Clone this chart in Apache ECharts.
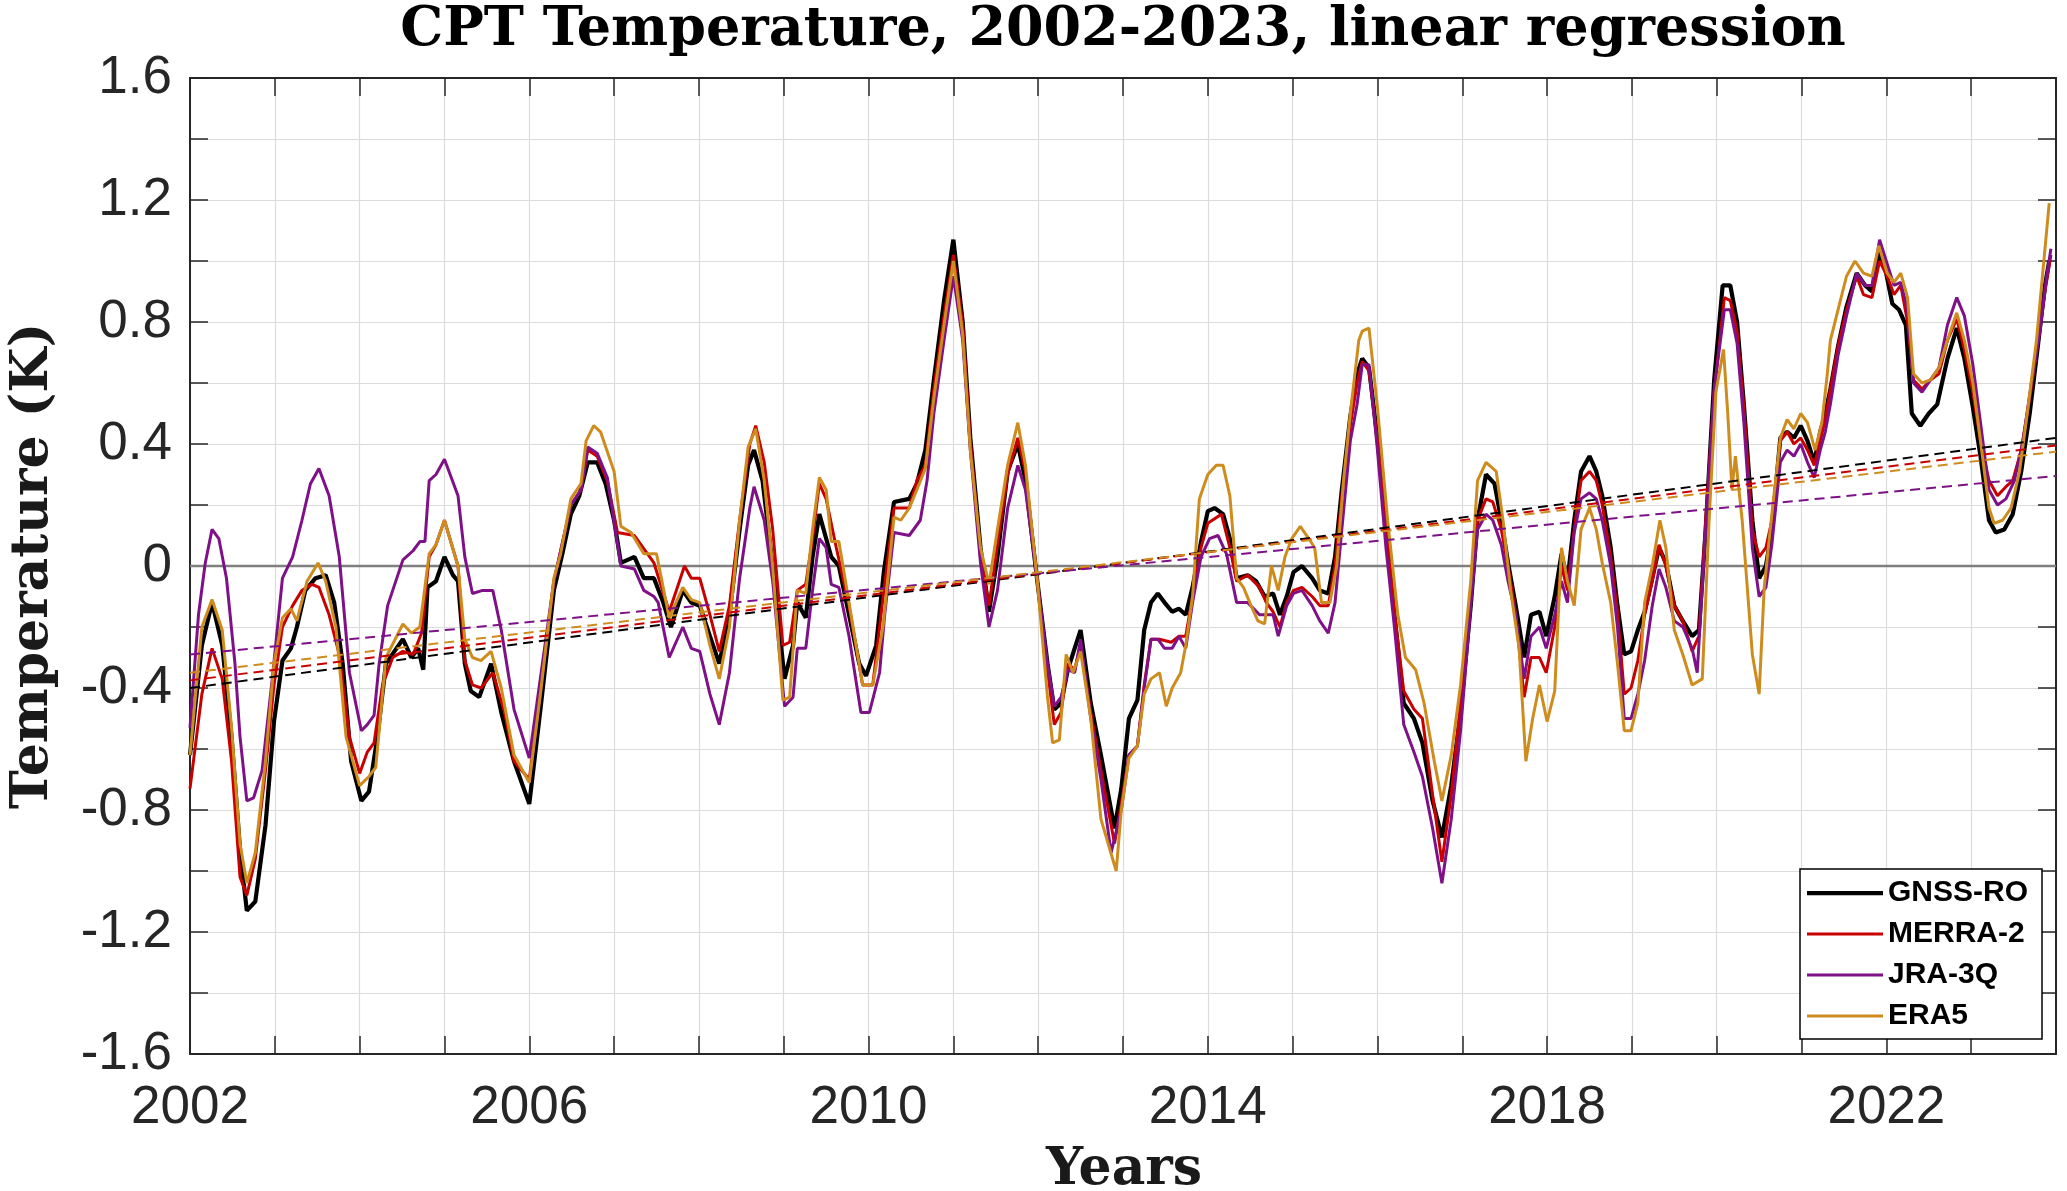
<!DOCTYPE html>
<html><head><meta charset="utf-8">
<script src="https://cdn.jsdelivr.net/npm/echarts/dist/echarts.min.js"></script>
<style>html,body{margin:0;padding:0;background:#fff}#c{width:2067px;height:1191px}</style>
</head><body><div id="c"></div>
<script>
// ---- data (decimal year, K) ----
const seriesNames = ['GNSS-RO','MERRA-2','JRA-3Q','ERA5'];
const xRange = [2002, 2024];
const yRange = [-1.6, 1.6];
const zeroLine = [0, 0];
const trendStart = [-0.40, -0.375, -0.29, -0.35];
const trendEnd   = [0.42, 0.395, 0.295, 0.375];

const gnssData = [[2002.00,-0.62],[2002.14,-0.26],[2002.26,-0.12],[2002.38,-0.26],[2002.49,-0.56],[2002.59,-0.93],[2002.67,-1.13],[2002.77,-1.10],[2002.89,-0.85],[2002.99,-0.51],[2003.09,-0.31],[2003.19,-0.27],[2003.26,-0.20],[2003.36,-0.08],[2003.48,-0.04],[2003.60,-0.03],[2003.70,-0.12],[2003.80,-0.32],[2003.90,-0.64],[2004.02,-0.77],[2004.11,-0.74],[2004.21,-0.56],[2004.31,-0.32],[2004.41,-0.28],[2004.51,-0.24],[2004.61,-0.30],[2004.69,-0.27],[2004.75,-0.34],[2004.80,-0.07],[2004.90,-0.05],[2005.00,0.03],[2005.10,-0.03],[2005.16,-0.05],[2005.24,-0.32],[2005.31,-0.41],[2005.41,-0.43],[2005.55,-0.32],[2005.67,-0.48],[2005.82,-0.64],[2006.00,-0.78],[2006.14,-0.45],[2006.29,-0.08],[2006.39,0.04],[2006.49,0.17],[2006.59,0.23],[2006.69,0.34],[2006.80,0.34],[2006.90,0.27],[2007.00,0.15],[2007.08,0.01],[2007.24,0.03],[2007.35,-0.04],[2007.47,-0.04],[2007.58,-0.12],[2007.67,-0.20],[2007.81,-0.08],[2007.91,-0.12],[2008.01,-0.13],[2008.13,-0.23],[2008.24,-0.32],[2008.36,-0.16],[2008.48,0.12],[2008.58,0.33],[2008.65,0.38],[2008.75,0.28],[2008.87,0.00],[2009.01,-0.37],[2009.11,-0.26],[2009.16,-0.12],[2009.26,-0.17],[2009.34,0.03],[2009.42,0.17],[2009.50,0.09],[2009.56,0.03],[2009.65,0.00],[2009.77,-0.16],[2009.89,-0.32],[2009.97,-0.36],[2010.09,-0.26],[2010.18,-0.02],[2010.30,0.21],[2010.48,0.22],[2010.57,0.27],[2010.67,0.38],[2010.77,0.61],[2010.89,0.87],[2011.00,1.07],[2011.11,0.80],[2011.20,0.42],[2011.32,0.06],[2011.42,-0.15],[2011.52,0.03],[2011.64,0.31],[2011.76,0.40],[2011.85,0.28],[2011.99,-0.05],[2012.11,-0.32],[2012.19,-0.47],[2012.27,-0.45],[2012.35,-0.34],[2012.43,-0.27],[2012.50,-0.21],[2012.62,-0.45],[2012.74,-0.62],[2012.90,-0.86],[2012.98,-0.73],[2013.07,-0.50],[2013.17,-0.44],[2013.25,-0.21],[2013.33,-0.12],[2013.41,-0.09],[2013.49,-0.12],[2013.58,-0.15],[2013.66,-0.14],[2013.74,-0.16],[2013.82,-0.07],[2013.92,0.08],[2014.00,0.18],[2014.08,0.19],[2014.18,0.17],[2014.26,0.09],[2014.34,-0.04],[2014.47,-0.03],[2014.57,-0.05],[2014.67,-0.10],[2014.77,-0.09],[2014.85,-0.16],[2014.93,-0.10],[2015.01,-0.02],[2015.11,0.00],[2015.23,-0.04],[2015.32,-0.08],[2015.42,-0.09],[2015.50,0.03],[2015.58,0.25],[2015.68,0.49],[2015.76,0.63],[2015.82,0.68],[2015.90,0.65],[2016.00,0.42],[2016.10,0.12],[2016.20,-0.16],[2016.31,-0.45],[2016.43,-0.50],[2016.53,-0.58],[2016.65,-0.77],[2016.76,-0.89],[2016.87,-0.72],[2016.98,-0.48],[2017.10,-0.13],[2017.18,0.15],[2017.28,0.30],[2017.38,0.27],[2017.46,0.15],[2017.54,0.01],[2017.63,-0.13],[2017.73,-0.30],[2017.81,-0.16],[2017.91,-0.15],[2017.99,-0.23],[2018.09,-0.10],[2018.17,0.04],[2018.24,-0.05],[2018.32,0.15],[2018.40,0.31],[2018.50,0.36],[2018.58,0.31],[2018.65,0.23],[2018.75,0.06],[2018.83,-0.13],[2018.91,-0.29],[2018.99,-0.28],[2019.07,-0.21],[2019.15,-0.15],[2019.24,-0.04],[2019.32,0.06],[2019.40,0.01],[2019.50,-0.13],[2019.60,-0.18],[2019.71,-0.23],[2019.79,-0.21],[2019.87,0.12],[2019.97,0.61],[2020.07,0.92],[2020.16,0.92],[2020.24,0.80],[2020.32,0.53],[2020.42,0.15],[2020.50,-0.04],[2020.58,0.00],[2020.65,0.12],[2020.75,0.42],[2020.83,0.44],[2020.91,0.42],[2020.99,0.46],[2021.07,0.41],[2021.15,0.34],[2021.22,0.44],[2021.28,0.50],[2021.34,0.58],[2021.43,0.72],[2021.53,0.85],[2021.65,0.96],[2021.75,0.92],[2021.83,0.90],[2021.92,1.03],[2021.99,0.97],[2022.07,0.86],[2022.15,0.84],[2022.23,0.79],[2022.30,0.50],[2022.40,0.46],[2022.50,0.50],[2022.60,0.53],[2022.72,0.68],[2022.83,0.78],[2022.92,0.68],[2023.02,0.52],[2023.11,0.36],[2023.21,0.15],[2023.29,0.11],[2023.39,0.12],[2023.49,0.17],[2023.59,0.31],[2023.69,0.50],[2023.79,0.73],[2023.87,0.92],[2023.92,1.00]];

const merraData = [[2002.00,-0.73],[2002.14,-0.42],[2002.26,-0.27],[2002.38,-0.37],[2002.49,-0.64],[2002.59,-1.02],[2002.67,-1.08],[2002.77,-0.96],[2002.89,-0.67],[2002.99,-0.39],[2003.09,-0.20],[2003.21,-0.13],[2003.32,-0.08],[2003.44,-0.06],[2003.52,-0.07],[2003.64,-0.16],[2003.76,-0.29],[2003.88,-0.56],[2004.00,-0.68],[2004.09,-0.61],[2004.17,-0.58],[2004.27,-0.39],[2004.39,-0.30],[2004.51,-0.28],[2004.63,-0.29],[2004.73,-0.22],[2004.82,0.03],[2004.90,0.07],[2005.00,0.15],[2005.16,0.00],[2005.24,-0.31],[2005.33,-0.39],[2005.43,-0.40],[2005.57,-0.35],[2005.71,-0.48],[2005.82,-0.64],[2006.00,-0.70],[2006.14,-0.39],[2006.29,-0.05],[2006.49,0.20],[2006.61,0.25],[2006.69,0.38],[2006.80,0.36],[2006.92,0.28],[2007.04,0.11],[2007.24,0.10],[2007.47,0.01],[2007.65,-0.15],[2007.83,0.00],[2007.91,-0.04],[2008.01,-0.04],[2008.13,-0.16],[2008.24,-0.28],[2008.36,-0.13],[2008.48,0.15],[2008.60,0.40],[2008.67,0.46],[2008.77,0.34],[2008.87,0.12],[2008.99,-0.26],[2009.07,-0.25],[2009.16,-0.08],[2009.26,-0.06],[2009.34,0.09],[2009.42,0.27],[2009.50,0.22],[2009.62,0.06],[2009.77,-0.13],[2009.93,-0.39],[2010.05,-0.39],[2010.16,-0.13],[2010.30,0.19],[2010.48,0.19],[2010.57,0.28],[2010.67,0.33],[2010.77,0.58],[2010.89,0.82],[2011.00,1.02],[2011.11,0.79],[2011.20,0.41],[2011.32,0.03],[2011.42,-0.13],[2011.52,0.07],[2011.64,0.30],[2011.76,0.42],[2011.85,0.31],[2011.99,-0.05],[2012.11,-0.34],[2012.19,-0.52],[2012.27,-0.48],[2012.35,-0.32],[2012.43,-0.34],[2012.50,-0.26],[2012.62,-0.48],[2012.74,-0.67],[2012.90,-0.91],[2012.98,-0.78],[2013.07,-0.62],[2013.17,-0.59],[2013.25,-0.39],[2013.33,-0.24],[2013.43,-0.24],[2013.57,-0.25],[2013.66,-0.23],[2013.74,-0.23],[2013.82,-0.10],[2013.92,0.06],[2014.00,0.14],[2014.16,0.17],[2014.26,0.06],[2014.34,-0.05],[2014.47,-0.03],[2014.61,-0.07],[2014.69,-0.12],[2014.77,-0.15],[2014.85,-0.20],[2014.93,-0.12],[2015.01,-0.08],[2015.11,-0.07],[2015.23,-0.10],[2015.32,-0.13],[2015.42,-0.13],[2015.50,0.00],[2015.58,0.23],[2015.68,0.46],[2015.76,0.60],[2015.82,0.67],[2015.90,0.64],[2016.00,0.41],[2016.10,0.12],[2016.20,-0.15],[2016.31,-0.41],[2016.43,-0.47],[2016.53,-0.50],[2016.65,-0.75],[2016.76,-0.97],[2016.87,-0.75],[2016.98,-0.45],[2017.10,-0.10],[2017.18,0.15],[2017.28,0.22],[2017.36,0.21],[2017.46,0.12],[2017.54,0.00],[2017.63,-0.16],[2017.73,-0.43],[2017.81,-0.30],[2017.91,-0.30],[2017.99,-0.35],[2018.09,-0.20],[2018.17,0.00],[2018.24,-0.08],[2018.32,0.12],[2018.40,0.28],[2018.50,0.31],[2018.58,0.28],[2018.65,0.20],[2018.75,0.03],[2018.83,-0.15],[2018.91,-0.42],[2018.99,-0.40],[2019.07,-0.31],[2019.15,-0.16],[2019.24,-0.05],[2019.32,0.07],[2019.40,0.00],[2019.50,-0.13],[2019.60,-0.18],[2019.71,-0.28],[2019.79,-0.23],[2019.87,0.15],[2019.97,0.57],[2020.09,0.88],[2020.16,0.87],[2020.24,0.77],[2020.32,0.52],[2020.42,0.12],[2020.50,0.03],[2020.58,0.06],[2020.65,0.15],[2020.75,0.41],[2020.83,0.44],[2020.91,0.40],[2020.99,0.42],[2021.07,0.38],[2021.15,0.33],[2021.22,0.41],[2021.28,0.48],[2021.34,0.58],[2021.43,0.72],[2021.53,0.84],[2021.65,0.95],[2021.73,0.89],[2021.83,0.88],[2021.92,1.00],[2022.01,0.95],[2022.09,0.89],[2022.17,0.92],[2022.25,0.80],[2022.32,0.61],[2022.42,0.58],[2022.52,0.61],[2022.62,0.63],[2022.72,0.74],[2022.83,0.81],[2022.92,0.71],[2023.02,0.57],[2023.11,0.41],[2023.21,0.28],[2023.31,0.23],[2023.41,0.26],[2023.49,0.28],[2023.59,0.38],[2023.69,0.55],[2023.79,0.74],[2023.87,0.90],[2023.94,1.02]];

const jraData = [[2002.00,-0.53],[2002.10,-0.16],[2002.18,0.01],[2002.26,0.12],[2002.34,0.09],[2002.43,-0.04],[2002.53,-0.32],[2002.59,-0.56],[2002.67,-0.77],[2002.75,-0.76],[2002.85,-0.67],[2002.97,-0.37],[2003.09,-0.04],[2003.21,0.03],[2003.32,0.15],[2003.42,0.27],[2003.52,0.32],[2003.64,0.23],[2003.76,0.03],[2003.88,-0.35],[2004.02,-0.54],[2004.09,-0.52],[2004.17,-0.49],[2004.23,-0.32],[2004.33,-0.13],[2004.51,0.02],[2004.63,0.05],[2004.71,0.08],[2004.77,0.08],[2004.82,0.28],[2004.90,0.30],[2005.00,0.35],[2005.16,0.23],[2005.24,0.03],[2005.33,-0.09],[2005.45,-0.08],[2005.57,-0.08],[2005.67,-0.21],[2005.82,-0.47],[2006.00,-0.63],[2006.14,-0.35],[2006.29,-0.05],[2006.49,0.20],[2006.61,0.25],[2006.69,0.39],[2006.80,0.37],[2006.92,0.29],[2007.08,0.00],[2007.24,-0.01],[2007.35,-0.08],[2007.47,-0.10],[2007.52,-0.12],[2007.65,-0.30],[2007.81,-0.20],[2007.91,-0.27],[2008.01,-0.28],[2008.13,-0.42],[2008.24,-0.52],[2008.36,-0.35],[2008.48,-0.04],[2008.60,0.19],[2008.65,0.26],[2008.77,0.15],[2008.87,-0.05],[2009.01,-0.46],[2009.11,-0.43],[2009.16,-0.27],[2009.26,-0.27],[2009.34,-0.08],[2009.42,0.09],[2009.50,0.06],[2009.56,-0.06],[2009.65,-0.07],[2009.77,-0.23],[2009.91,-0.48],[2010.01,-0.48],[2010.13,-0.35],[2010.19,-0.16],[2010.30,0.11],[2010.48,0.10],[2010.61,0.15],[2010.69,0.28],[2010.77,0.50],[2010.89,0.74],[2011.00,0.95],[2011.11,0.74],[2011.20,0.38],[2011.32,0.01],[2011.42,-0.20],[2011.52,-0.08],[2011.64,0.19],[2011.76,0.33],[2011.85,0.25],[2011.99,-0.05],[2012.11,-0.32],[2012.19,-0.46],[2012.27,-0.43],[2012.35,-0.34],[2012.43,-0.35],[2012.50,-0.24],[2012.62,-0.50],[2012.74,-0.70],[2012.86,-0.94],[2012.98,-0.80],[2013.07,-0.62],[2013.17,-0.59],[2013.25,-0.40],[2013.33,-0.24],[2013.41,-0.24],[2013.49,-0.27],[2013.58,-0.27],[2013.66,-0.23],[2013.74,-0.27],[2013.82,-0.12],[2013.92,0.03],[2014.02,0.09],[2014.12,0.10],[2014.22,0.04],[2014.34,-0.12],[2014.47,-0.12],[2014.61,-0.16],[2014.69,-0.16],[2014.77,-0.16],[2014.83,-0.23],[2014.93,-0.13],[2015.01,-0.09],[2015.11,-0.08],[2015.23,-0.13],[2015.32,-0.18],[2015.42,-0.22],[2015.50,-0.12],[2015.58,0.12],[2015.68,0.41],[2015.76,0.53],[2015.82,0.66],[2015.90,0.66],[2016.00,0.38],[2016.10,0.06],[2016.20,-0.20],[2016.31,-0.52],[2016.43,-0.61],[2016.53,-0.69],[2016.65,-0.86],[2016.76,-1.04],[2016.87,-0.83],[2016.98,-0.54],[2017.10,-0.13],[2017.18,0.12],[2017.28,0.17],[2017.36,0.15],[2017.46,0.07],[2017.54,-0.05],[2017.63,-0.16],[2017.73,-0.37],[2017.81,-0.23],[2017.91,-0.20],[2017.99,-0.27],[2018.09,-0.16],[2018.17,-0.05],[2018.24,-0.12],[2018.32,0.11],[2018.40,0.22],[2018.50,0.24],[2018.58,0.22],[2018.65,0.15],[2018.75,0.00],[2018.83,-0.20],[2018.91,-0.50],[2018.99,-0.50],[2019.07,-0.42],[2019.15,-0.31],[2019.24,-0.13],[2019.32,-0.01],[2019.40,-0.07],[2019.50,-0.18],[2019.60,-0.20],[2019.71,-0.27],[2019.77,-0.35],[2019.87,0.12],[2019.97,0.58],[2020.09,0.84],[2020.16,0.84],[2020.24,0.73],[2020.32,0.47],[2020.42,0.06],[2020.50,-0.10],[2020.58,-0.07],[2020.65,0.07],[2020.75,0.34],[2020.83,0.38],[2020.91,0.36],[2020.99,0.40],[2021.07,0.34],[2021.15,0.29],[2021.22,0.38],[2021.28,0.44],[2021.34,0.53],[2021.43,0.69],[2021.53,0.82],[2021.65,0.96],[2021.75,0.92],[2021.83,0.92],[2021.92,1.07],[2022.01,0.99],[2022.09,0.92],[2022.17,0.93],[2022.25,0.84],[2022.32,0.60],[2022.42,0.57],[2022.52,0.61],[2022.62,0.65],[2022.72,0.79],[2022.83,0.88],[2022.92,0.82],[2023.02,0.66],[2023.11,0.47],[2023.21,0.25],[2023.31,0.20],[2023.41,0.22],[2023.51,0.28],[2023.61,0.41],[2023.71,0.60],[2023.81,0.77],[2023.89,0.95],[2023.94,1.04]];

const era5Data = [[2002.00,-0.62],[2002.14,-0.20],[2002.26,-0.11],[2002.38,-0.21],[2002.49,-0.53],[2002.59,-0.91],[2002.67,-1.04],[2002.77,-0.94],[2002.89,-0.64],[2002.99,-0.32],[2003.09,-0.17],[2003.19,-0.14],[2003.26,-0.18],[2003.38,-0.05],[2003.51,0.01],[2003.60,-0.05],[2003.72,-0.20],[2003.84,-0.56],[2004.00,-0.72],[2004.11,-0.69],[2004.19,-0.66],[2004.31,-0.30],[2004.51,-0.19],[2004.61,-0.22],[2004.71,-0.20],[2004.82,0.04],[2004.90,0.07],[2005.00,0.15],[2005.16,0.00],[2005.24,-0.24],[2005.33,-0.30],[2005.43,-0.31],[2005.55,-0.28],[2005.67,-0.40],[2005.82,-0.62],[2006.00,-0.71],[2006.14,-0.40],[2006.29,-0.04],[2006.37,0.04],[2006.49,0.22],[2006.61,0.27],[2006.67,0.41],[2006.76,0.46],[2006.84,0.44],[2007.00,0.31],[2007.08,0.13],[2007.20,0.11],[2007.35,0.04],[2007.50,0.04],[2007.65,-0.17],[2007.81,-0.07],[2007.91,-0.11],[2008.01,-0.12],[2008.13,-0.26],[2008.24,-0.37],[2008.36,-0.20],[2008.48,0.15],[2008.58,0.39],[2008.67,0.45],[2008.77,0.28],[2008.87,0.00],[2008.99,-0.44],[2009.07,-0.43],[2009.16,-0.08],[2009.26,-0.09],[2009.34,0.12],[2009.42,0.29],[2009.50,0.25],[2009.56,0.08],[2009.65,0.08],[2009.77,-0.12],[2009.93,-0.39],[2010.05,-0.39],[2010.17,-0.20],[2010.30,0.16],[2010.38,0.15],[2010.48,0.19],[2010.57,0.25],[2010.67,0.32],[2010.77,0.55],[2010.89,0.79],[2011.00,1.00],[2011.11,0.76],[2011.20,0.38],[2011.32,0.06],[2011.42,-0.06],[2011.52,0.12],[2011.64,0.33],[2011.76,0.47],[2011.85,0.33],[2011.99,-0.05],[2012.11,-0.43],[2012.17,-0.58],[2012.25,-0.57],[2012.33,-0.29],[2012.41,-0.35],[2012.50,-0.28],[2012.62,-0.50],[2012.74,-0.83],[2012.92,-1.00],[2012.98,-0.80],[2013.07,-0.63],[2013.17,-0.59],[2013.25,-0.42],[2013.33,-0.37],[2013.43,-0.35],[2013.51,-0.46],[2013.58,-0.40],[2013.68,-0.35],[2013.74,-0.26],[2013.82,-0.10],[2013.90,0.22],[2014.00,0.30],[2014.10,0.33],[2014.18,0.33],[2014.26,0.23],[2014.34,-0.04],[2014.42,-0.07],[2014.51,-0.13],[2014.59,-0.18],[2014.67,-0.19],[2014.75,0.00],[2014.83,-0.08],[2014.91,0.03],[2014.99,0.09],[2015.09,0.13],[2015.19,0.09],[2015.26,0.06],[2015.34,-0.12],[2015.44,-0.12],[2015.52,0.00],[2015.60,0.28],[2015.68,0.50],[2015.78,0.74],[2015.82,0.77],[2015.90,0.78],[2016.00,0.52],[2016.12,0.15],[2016.24,-0.16],[2016.33,-0.30],[2016.45,-0.34],[2016.55,-0.45],[2016.67,-0.64],[2016.76,-0.77],[2016.87,-0.62],[2016.98,-0.39],[2017.10,-0.05],[2017.18,0.28],[2017.28,0.34],[2017.40,0.31],[2017.48,0.15],[2017.57,-0.08],[2017.67,-0.27],[2017.75,-0.64],[2017.83,-0.50],[2017.91,-0.39],[2018.00,-0.51],[2018.09,-0.41],[2018.17,0.06],[2018.24,-0.05],[2018.32,-0.13],[2018.40,0.12],[2018.50,0.19],[2018.58,0.12],[2018.65,0.01],[2018.75,-0.12],[2018.83,-0.32],[2018.91,-0.54],[2018.99,-0.54],[2019.07,-0.45],[2019.15,-0.12],[2019.24,0.00],[2019.33,0.15],[2019.40,0.06],[2019.50,-0.21],[2019.60,-0.29],[2019.71,-0.39],[2019.83,-0.37],[2019.91,0.15],[2019.99,0.57],[2020.08,0.71],[2020.13,0.50],[2020.18,0.25],[2020.22,0.36],[2020.30,0.15],[2020.42,-0.29],[2020.50,-0.42],[2020.56,-0.07],[2020.65,0.17],[2020.75,0.42],[2020.83,0.48],[2020.91,0.45],[2020.99,0.50],[2021.07,0.47],[2021.16,0.38],[2021.24,0.47],[2021.30,0.62],[2021.34,0.74],[2021.43,0.84],[2021.53,0.95],[2021.63,1.00],[2021.73,0.96],[2021.83,0.95],[2021.91,1.05],[2022.01,0.96],[2022.09,0.93],[2022.17,0.96],[2022.25,0.88],[2022.32,0.63],[2022.42,0.60],[2022.52,0.61],[2022.62,0.65],[2022.72,0.74],[2022.83,0.83],[2022.92,0.74],[2023.02,0.60],[2023.11,0.41],[2023.21,0.19],[2023.27,0.14],[2023.37,0.15],[2023.47,0.19],[2023.57,0.31],[2023.67,0.52],[2023.77,0.74],[2023.85,0.98],[2023.92,1.19]];

// ---- styling ----
const colors = ['#000000', '#C80000', '#7F1188', '#CF8C1E'];
const widths = [4.2, 3.0, 3.0, 3.0];
const allData = [gnssData, merraData, jraData, era5Data];

const chart = echarts.init(document.getElementById('c'), null, {renderer: 'canvas'});
const axisColor = '#262626';
const tickFont = {fontFamily: 'Liberation Sans', fontSize: 53, color: '#262626'};

function baseX(pos, showLabel) {
  return {
    type: 'value', position: pos, min: xRange[0], max: xRange[1], interval: 1,
    axisLine: {show: true, onZero: false, lineStyle: {color: axisColor, width: 2}},
    axisTick: {show: true, inside: true, length: 18, lineStyle: {color: axisColor, width: 1.5}},
    axisLabel: showLabel ? Object.assign({show: true, margin: 28,
      formatter: v => ((Math.round(v) - 2002) % 4 === 0 ? String(Math.round(v)) : '')}, tickFont) : {show: false},
    splitLine: {show: showLabel, lineStyle: {color: '#dcdcdc', width: 1.2}}
  };
}
function baseY(pos, showLabel) {
  return {
    type: 'value', position: pos, min: yRange[0], max: yRange[1], interval: 0.2,
    axisLine: {show: true, onZero: false, lineStyle: {color: axisColor, width: 2}},
    axisTick: {show: true, inside: true, length: 18, lineStyle: {color: axisColor, width: 1.5}},
    axisLabel: showLabel ? Object.assign({show: true, margin: 18,
      formatter: v => { const k = Math.round(v * 10); if (k % 4 !== 0) return ''; if (k === 0) return '0'; return (k / 10).toFixed(1); }}, tickFont) : {show: false},
    splitLine: {show: showLabel, lineStyle: {color: '#dcdcdc', width: 1.2}}
  };
}

const series = [];
series.push({
  type: 'line', name: 'zero', data: [[xRange[0], zeroLine[0]], [xRange[1], zeroLine[1]]],
  symbol: 'none', silent: true, z: 2, lineStyle: {color: '#7f7f7f', width: 2.5}
});
seriesNames.forEach((n, i) => {
  series.push({
    type: 'line', name: n, data: allData[i], symbol: 'none', silent: true, z: 3,
    lineStyle: {color: colors[i], width: widths[i]}, itemStyle: {color: colors[i]}
  });
});
seriesNames.forEach((n, i) => {
  series.push({
    type: 'line', name: n + ' fit', data: [[xRange[0], trendStart[i]], [xRange[1], trendEnd[i]]],
    symbol: 'none', silent: true, z: 4,
    lineStyle: {color: colors[i], width: 2, type: [10, 6]}
  });
});

// legend icons: a plain horizontal bar (thicker for GNSS-RO), padded to a 76x14 box
const thickIcon = 'path://M0,0L0.01,0L0.01,0.01Z M0,5L76,5L76,9.2L0,9.2Z M0,14L0.01,14L0.01,13.99Z';
const thinIcon  = 'path://M0,0L0.01,0L0.01,0.01Z M0,5.5L76,5.5L76,8.5L0,8.5Z M0,14L0.01,14L0.01,13.99Z';

const serifBold = '"DejaVu Serif", "Liberation Serif", serif';
chart.setOption({
  animation: false,
  backgroundColor: '#ffffff',
  grid: {left: 190, right: 11, top: 78, bottom: 137, containLabel: false},
  xAxis: [baseX('bottom', true), baseX('top', false)],
  yAxis: [baseY('left', true), baseY('right', false)],
  legend: {
    data: seriesNames.map((n, i) => ({name: n, icon: i === 0 ? thickIcon : thinIcon})),
    orient: 'vertical', left: 1800, top: 869,
    itemWidth: 76, itemHeight: 14, itemGap: 11, padding: [9, 14, 8, 7],
    borderColor: '#000', borderWidth: 1.5, backgroundColor: '#fff', selectedMode: false,
    textStyle: {fontFamily: 'Liberation Sans', fontWeight: 'bold', fontSize: 30, color: '#000', lineHeight: 29}
  },
  graphic: [
    {type: 'text', x: 1123, y: 31, silent: true,
     style: {text: 'CPT Temperature, 2002-2023, linear regression', font: 'bold 54px ' + serifBold,
             fill: '#000', textAlign: 'center', textVerticalAlign: 'middle', align: 'center', verticalAlign: 'middle'}},
    {type: 'text', x: 33, y: 566, rotation: Math.PI / 2, silent: true,
     style: {text: 'Temperature (K)', font: 'bold 52px ' + serifBold,
             fill: '#1a1a1a', textAlign: 'center', textVerticalAlign: 'middle', align: 'center', verticalAlign: 'middle'}},
    {type: 'text', x: 1124, y: 1170, silent: true,
     style: {text: 'Years', font: 'bold 52px ' + serifBold,
             fill: '#1a1a1a', textAlign: 'center', textVerticalAlign: 'middle', align: 'center', verticalAlign: 'middle'}}
  ],
  series: series
});
</script></body></html>
